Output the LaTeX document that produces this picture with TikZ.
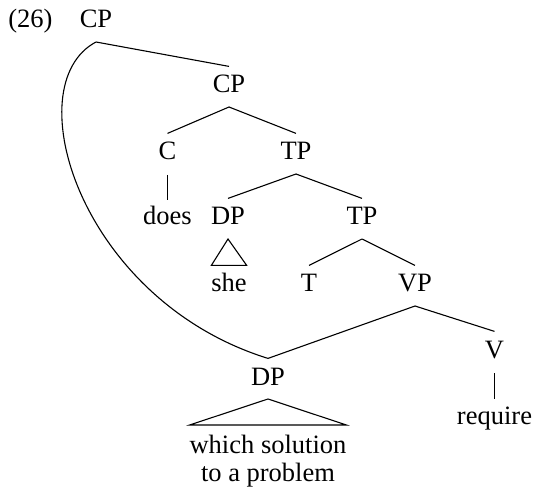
\documentclass[tikz,border=0pt]{standalone}
\usepackage{fontspec}
\setmainfont{Liberation Serif}
\begin{document}
\begin{tikzpicture}[x=0.5pt,y=-0.5pt,
  every node/.style={font=\fontsize{13.25}{14}\selectfont},
  cat/.style={anchor=base, inner xsep=0pt, inner ysep=4.5pt, outer sep=0pt,
              text height=8.8pt, text depth=2.5pt},
  leaf/.style={anchor=north, inner xsep=0pt, inner ysep=5pt, outer sep=0pt, align=center},
  edge/.style={line width=0.55pt},
]
\useasboundingbox (0,0) rectangle (533,490);
\node[anchor=base west, inner sep=0pt] (num) at (8,28) {(26)};
\node[cat] (cp1) at (96,28) {CP};
\node[cat] (cp2) at (229,93) {CP};
\node[cat] (c) at (167.5,160) {C};
\node[cat] (tp1) at (296,160) {TP};
\node[cat] (does) at (167.5,225) {does};
\node[cat] (dp1) at (228,225) {DP};
\node[cat] (tp2) at (362,225) {TP};
\node[cat] (she) at (229,292) {she};
\node[cat] (t) at (309,292) {T};
\node[cat] (vp) at (415,292) {VP};
\node[cat] (v) at (494.5,358) {V};
\node[cat] (dp2) at (268,385) {DP};
\node[cat] (req) at (494.5,424) {require};
\node[leaf] (wh) at (268,425) {which solution\\to a problem};

\draw[edge] (cp1.south) -- (cp2.north);
\draw[edge] (cp2.south) -- (c.north);
\draw[edge] (cp2.south) -- (tp1.north);
\draw[edge] ([yshift=-0.5pt]c.south) -- ([yshift=-1pt]does.north);
\draw[edge] (tp1.south) -- (dp1.north);
\draw[edge] (tp1.south) -- (tp2.north);
\draw[edge] (dp1.south) -- (she.north west) -- (she.north east) -- cycle;
\draw[edge] (tp2.south) -- (t.north);
\draw[edge] (tp2.south) -- (vp.north);
\draw[edge] (vp.south) -- (dp2.north);
\draw[edge] (vp.south) -- (v.north);
\draw[edge] ([yshift=-0.5pt]v.south) -- ([yshift=-1pt]req.north);
\draw[edge] (dp2.south) -- (wh.north west) -- (wh.north east) -- cycle;
\draw[edge] (cp1.south) .. controls (15,85) and (80,300) .. (dp2.north);
\end{tikzpicture}
\end{document}
